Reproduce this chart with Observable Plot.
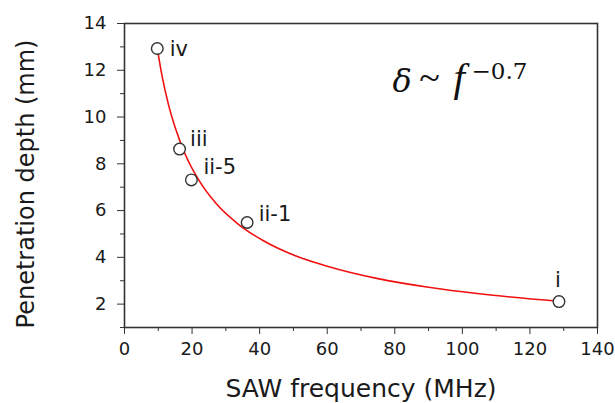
<!DOCTYPE html>
<html>
<head>
<meta charset="utf-8">
<script src="https://cdn.jsdelivr.net/npm/d3@7"></script>
<script src="https://cdn.jsdelivr.net/npm/@observablehq/plot@0.6"></script>
<style>
  html, body { margin: 0; padding: 0; background: #fff; }
  #chart { width: 615px; height: 403px; }
</style>
</head>
<body>
<div id="chart"></div>
<script>
// Measured samples
const sampleFreq = [9.7, 16.3, 19.8, 36.3, 128.6];
const sampleDepth = [12.93, 8.63, 7.31, 5.49, 2.11];
const sampleNames = ["iv", "iii", "ii-5", "ii-1", "i"];

// Fitted curve
const fitFreq = [9.7, 11, 13, 15, 18, 22, 27, 34, 41, 50, 60, 75, 90, 105, 128.6];
const fitDepth = [12.94, 11.85, 10.54, 9.55, 8.40, 7.30, 6.32, 5.38, 4.72, 4.10, 3.62, 3.09, 2.72, 2.44, 2.12];

// Ticks
const xTicks = [0, 20, 40, 60, 80, 100, 120, 140];
const xMinorTicks = [10, 30, 50, 70, 90, 110, 130];
const yTicks = [2, 4, 6, 8, 10, 12, 14];
const yMinorTicks = [1, 3, 5, 7, 9, 11, 13];

const xTitle = "SAW frequency (MHz)";
const yTitle = "Penetration depth (mm)";

const samples = sampleFreq.map((f, i) => ({f, d: sampleDepth[i], name: sampleNames[i]}));
const fit = fitFreq.map((f, i) => ({f, d: fitDepth[i]}));

const ink = "#333";
const txt = "#1a1a1a";
const sans = "'DejaVu Sans', Arial, sans-serif";
const serif = "'DejaVu Serif', 'Liberation Serif', serif";
const labelFor = (name, opts) => Plot.text(samples.filter(s => s.name === name), {
  x: "f", y: "d", text: "name", fontSize: 21, fill: txt, lineAnchor: "middle", ...opts
});
const formulaPart = (s, opts) => Plot.text([s], {
  frameAnchor: "top-left", text: d => d, lineAnchor: "middle", fontFamily: serif, fill: "#111", ...opts
});

const chart = Plot.plot({
  width: 615,
  height: 403,
  marginLeft: 124,
  marginRight: 18,
  marginTop: 23,
  marginBottom: 76,
  style: {fontFamily: sans, fontSize: "18px", background: "#fff", color: txt},
  x: {domain: [0, 140]},
  y: {domain: [1, 14]},
  marks: [
    Plot.axisX(xTicks, {tickSize: 7, tickPadding: 8, fontSize: 18, stroke: ink, fill: txt, label: null}),
    Plot.axisX(xMinorTicks, {tickSize: 4, stroke: ink, fill: "none", label: null}),
    Plot.axisY(yTicks, {tickSize: 7, tickPadding: 11, fontSize: 18, stroke: ink, fill: txt, label: null}),
    Plot.axisY(yMinorTicks, {tickSize: 4, stroke: ink, fill: "none", label: null}),
    Plot.frame({stroke: ink, strokeWidth: 1.6}),
    Plot.line(fit, {x: "f", y: "d", stroke: "#f01010", strokeWidth: 1.6, curve: "monotone-x"}),
    Plot.dot(samples, {x: "f", y: "d", r: 5.8, fill: "#fff", stroke: ink, strokeWidth: 1.4}),
    labelFor("iv", {textAnchor: "start", dx: 12.5, dy: 0.6}),
    labelFor("iii", {textAnchor: "start", dx: 10.5, dy: -10}),
    labelFor("ii-5", {textAnchor: "start", dx: 12, dy: -12.4}),
    labelFor("ii-1", {textAnchor: "start", dx: 11.5, dy: -8.4}),
    labelFor("i", {textAnchor: "middle", dx: -1, dy: -21.7}),
    // axis titles
    Plot.text([xTitle], {frameAnchor: "bottom", text: d => d, textAnchor: "middle", lineAnchor: "middle", fontSize: 25, dy: 61.7, fill: txt}),
    Plot.text([yTitle], {frameAnchor: "left", text: d => d, textAnchor: "middle", lineAnchor: "middle", fontSize: 24, rotate: -90, dx: -98.4, dy: 8.5, fill: txt}),
    // formula  δ ~ f^-0.7
    formulaPart("δ", {textAnchor: "start", fontSize: 32, fontStyle: "italic", dx: 268, dy: 57.8}),
    formulaPart("~", {textAnchor: "middle", fontSize: 38, fontFamily: "'Liberation Serif', serif", dx: 305, dy: 54}),
    formulaPart("f", {textAnchor: "start", fontSize: 41, fontStyle: "italic", fontFamily: "'Liberation Serif', serif", dx: 329, dy: 53.9}),
    formulaPart("\u22120.7", {textAnchor: "start", fontSize: 23, dx: 347, dy: 47.9})
  ]
});
document.getElementById("chart").appendChild(chart);
</script>
</body>
</html>
